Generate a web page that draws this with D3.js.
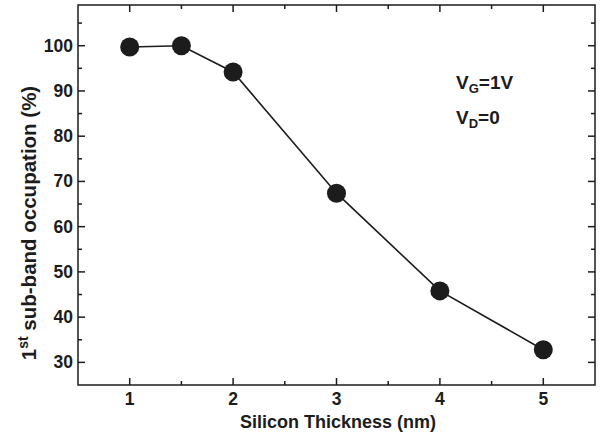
<!DOCTYPE html>
<html>
<head>
<meta charset="utf-8">
<title>Sub-band occupation</title>
<style>
	body { margin: 0; background: #fff; }
	svg { display: block; font-family: 'Liberation Sans', Arial, sans-serif; font-weight: bold; }
</style>
<script src="https://d3js.org/d3.v7.min.js"></script>
</head>
<body>
<svg width="602" height="436"></svg>
<script>
// data
var thickness = [1, 1.5, 2, 3, 4, 5];
var occupation = [99.7, 100, 94.2, 67.4, 45.8, 32.8];
var xTicks = [1, 2, 3, 4, 5];
var yTicks = [30, 40, 50, 60, 70, 80, 90, 100];

var svg = d3.select('svg');
var m = {left: 78, right: 7, top: 5, bottom: 51};
var W = 602, H = 436;

var x = d3.scaleLinear().domain([0.5, 5.5]).range([m.left, W - m.right]);
var y = d3.scaleLinear().domain([25, 109]).range([H - m.bottom, m.top]);

var ink = '#1c1c1c';

// frame
svg.append('rect')
	.attr('x', m.left).attr('y', m.top)
	.attr('width', W - m.right - m.left).attr('height', H - m.bottom - m.top)
	.attr('fill', 'none').attr('stroke', ink).attr('stroke-width', 1.5);

var xMinor = d3.range(1.5, 5.5, 1);
var yMinor = d3.range(35, 109, 10);

function tickLines(vals, len, horiz) {
	vals.forEach(function (v) {
		if (horiz) {
			// x ticks: bottom and top, pointing inward
			[[y.range()[0], -len], [y.range()[1], len]].forEach(function (p) {
				svg.append('line')
					.attr('x1', x(v)).attr('x2', x(v))
					.attr('y1', p[0]).attr('y2', p[0] + p[1])
					.attr('stroke', ink).attr('stroke-width', 1.5);
			});
		} else {
			[[x.range()[0], len], [x.range()[1], -len]].forEach(function (p) {
				svg.append('line')
					.attr('y1', y(v)).attr('y2', y(v))
					.attr('x1', p[0]).attr('x2', p[0] + p[1])
					.attr('stroke', ink).attr('stroke-width', 1.5);
			});
		}
	});
}
tickLines(xTicks, 7, true);
tickLines(xMinor, 4, true);
tickLines(yTicks, 7, false);
tickLines(yMinor, 4, false);

// tick labels
svg.selectAll('.xl').data(xTicks).enter().append('text')
	.attr('x', function (d) { return x(d); })
	.attr('y', 405)
	.attr('text-anchor', 'middle')
	.attr('font-size', 17.5)
	.attr('fill', ink)
	.text(function (d) { return d; });

svg.selectAll('.yl').data(yTicks).enter().append('text')
	.attr('x', 73)
	.attr('y', function (d) { return y(d) + 6; })
	.attr('text-anchor', 'end')
	.attr('font-size', 17.5)
	.attr('fill', ink)
	.text(function (d) { return d; });

// axis titles
svg.append('text')
	.attr('x', 338)
	.attr('y', 428)
	.attr('text-anchor', 'middle')
	.attr('font-size', 18)
	.attr('fill', ink)
	.text('Silicon Thickness (nm)');

var yt = svg.append('text')
	.attr('transform', 'translate(36,223) rotate(-90)')
	.attr('text-anchor', 'middle')
	.attr('font-size', 20.5)
	.attr('fill', ink);
yt.append('tspan').text('1');
yt.append('tspan').attr('dy', -8).attr('font-size', 14).text('st');
yt.append('tspan').attr('dy', 8).text(' sub-band occupation (%)');

// series
var pts = thickness.map(function (d, i) { return [d, occupation[i]]; });
svg.append('path')
	.attr('d', d3.line().x(function (d) { return x(d[0]); }).y(function (d) { return y(d[1]); })(pts))
	.attr('fill', 'none').attr('stroke', ink).attr('stroke-width', 1.6);

svg.selectAll('.pt').data(pts).enter().append('circle')
	.attr('cx', function (d) { return x(d[0]); })
	.attr('cy', function (d) { return y(d[1]); })
	.attr('r', 9.5)
	.attr('fill', ink);

// annotation
function label(xp, yp, sub, rest) {
	var t = svg.append('text').attr('x', xp).attr('y', yp)
		.attr('font-size', 19).attr('fill', ink);
	t.append('tspan').text('V');
	t.append('tspan').attr('dy', 4).attr('font-size', 13).text(sub);
	t.append('tspan').attr('dy', -4).text(rest);
}
label(456, 89, 'G', '=1V');
label(456, 124, 'D', '=0');
</script>
</body>
</html>
